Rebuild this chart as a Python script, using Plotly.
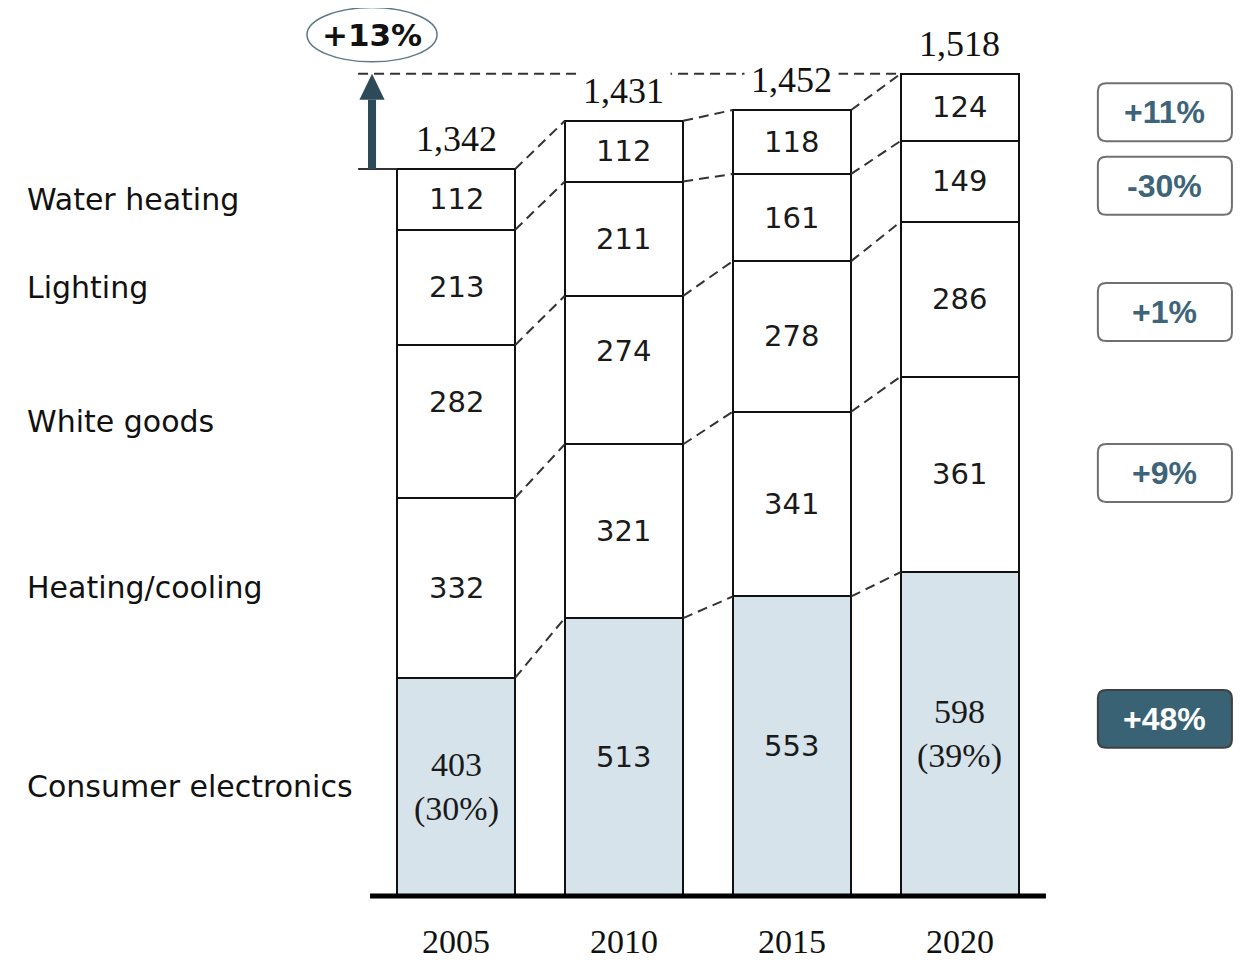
import plotly.graph_objects as go

# ---------------- data ----------------
years = ["2005", "2010", "2015", "2020"]
categories = ["Consumer electronics", "Heating/cooling", "White goods", "Lighting", "Water heating"]
consumer_electronics = [403, 513, 553, 598]
heating_cooling = [332, 321, 341, 361]
white_goods = [282, 274, 278, 286]
lighting = [213, 211, 161, 149]
water_heating = [112, 112, 118, 124]
totals = [1342, 1431, 1452, 1518]
ce_labels = ["403<br>(30%)", "513", "553", "598<br>(39%)"]
change_labels = ["+48%", "+9%", "+1%", "-30%", "+11%"]   # same order as categories
change_box_y = [327, 781, 1078, 1311, 1447]              # label positions (value units)
total_change = "+13%"

# ---------------- layout constants ----------------
# page body has an 8px margin, so the figure is sized to fit the window
W, H = 1234, 954
BW = 0.705
xpos = list(range(len(years)))
YR = [-121.8, 1639.3]
XR = [-2.667, 4.679]
LIGHT = "#D6E3EA"
DARK = "#2C4A58"
TEAL_TXT = "#3D6478"
BOX_FILL = "#3A6275"
SANS = "DejaVu Sans"
SERIF = "Liberation Serif"

series = [consumer_electronics, heating_cooling, white_goods, lighting, water_heating]
fills = [LIGHT, "white", "white", "white", "white"]

fig = go.Figure()

# stacked bars
for name, vals, fill in zip(categories, series, fills):
    fig.add_trace(go.Bar(
        x=xpos, y=vals, width=BW, name=name, showlegend=False, hoverinfo="skip",
        marker=dict(color=fill, line=dict(color="#111111", width=2)),
    ))

# cumulative tops
cum = []
run = [0] * len(years)
for vals in series:
    run = [a + b for a, b in zip(run, vals)]
    cum.append(run[:])

DASH = dict(color="#333333", width=2, dash="10px,6px")

# dashed connectors between bars
for j in range(len(series)):
    for i in range(len(years) - 1):
        fig.add_trace(go.Scatter(
            x=[xpos[i] + BW / 2, xpos[i + 1] - BW / 2], y=[cum[j][i], cum[j][i + 1]],
            mode="lines", line=DASH, showlegend=False, hoverinfo="skip",
        ))

arrow_x = -0.5
# horizontal dashed line at final total
fig.add_trace(go.Scatter(
    x=[arrow_x - 0.083, xpos[-1] - BW / 2], y=[totals[-1], totals[-1]],
    mode="lines", line=DASH, showlegend=False, hoverinfo="skip",
))
# short solid line at first total
fig.add_trace(go.Scatter(
    x=[arrow_x - 0.083, xpos[0] - BW / 2], y=[totals[0], totals[0]],
    mode="lines", line=dict(color="#333333", width=2),
    showlegend=False, hoverinfo="skip",
))

shapes = []
annotations = []

# baseline
shapes.append(dict(type="line", xref="x", yref="y", x0=-0.512, x1=3.512, y0=0, y1=0,
                   line=dict(color="#000000", width=5)))

# arrow (shaft + head)
head_base = totals[-1] - 48
shapes.append(dict(type="rect", xref="x", yref="y", x0=arrow_x - 0.024, x1=arrow_x + 0.024,
                   y0=totals[0], y1=head_base, fillcolor=DARK, line=dict(width=0)))
shapes.append(dict(type="path", xref="x", yref="y",
                   path=f"M{arrow_x - 0.075},{head_base} L{arrow_x},{totals[-1]} L{arrow_x + 0.075},{head_base} Z",
                   fillcolor=DARK, line=dict(width=0)))

# ellipse with +13%
shapes.append(dict(type="circle", xref="x", yref="y", x0=-0.887, x1=-0.113, y0=1540, y1=1640,
                   fillcolor="white", line=dict(color="#5E7886", width=1.5)))
annotations.append(dict(x=arrow_x, y=1590, xref="x", yref="y", text=f"<b>{total_change}</b>",
                        showarrow=False, font=dict(family=SANS, size=31, color="#111111")))

# left category labels at 2005 segment centres
prev = [0] * len(years)
for j, (name, vals) in enumerate(zip(categories, series)):
    centre = prev[0] + vals[0] / 2
    annotations.append(dict(x=-2.565, y=centre, xref="x", yref="y", text=name, xanchor="left",
                            showarrow=False, font=dict(family=SANS, size=30, color="#111111")))
    prev = cum[j]

# inner segment labels
label_shift = {(2, 0): 19, (2, 1): 19}
prev = [0] * len(years)
for j, vals in enumerate(series):
    for i in range(len(years)):
        centre = prev[i] + vals[i] / 2
        if j == 0:
            txt = ce_labels[i]
            fam = SERIF if "<br>" in txt else SANS
            size = 34 if "<br>" in txt else 29
        else:
            txt = str(vals[i])
            fam, size = SANS, 29
        annotations.append(dict(x=xpos[i], y=centre, xref="x", yref="y", text=txt, showarrow=False,
                                yshift=label_shift.get((j, i), 0),
                                font=dict(family=fam, size=size, color="#1a1a1a")))
    prev = cum[j]

# totals above bars
for i, t in enumerate(totals):
    annotations.append(dict(x=xpos[i], y=cum[-1][i], xref="x", yref="y", text=f"{t:,}",
                            showarrow=False, yanchor="bottom", yshift=3, bgcolor="white",
                            borderpad=6, font=dict(family=SERIF, size=36, color="#111111")))

# year labels
for i, yv in enumerate(years):
    annotations.append(dict(x=xpos[i], y=-84, xref="x", yref="y", text=yv, showarrow=False,
                            borderpad=0, font=dict(family=SERIF, size=34, color="#111111")))


# right-hand change boxes
def rrect(x0, x1, y0, y1, rx, ry):
    return (f"M{x0 + rx},{y0} L{x1 - rx},{y0} Q{x1},{y0} {x1},{y0 + ry} "
            f"L{x1},{y1 - ry} Q{x1},{y1} {x1 - rx},{y1} L{x0 + rx},{y1} "
            f"Q{x0},{y1} {x0},{y1 - ry} L{x0},{y0 + ry} Q{x0},{y0} {x0 + rx},{y0} Z")


bx0, bx1 = 3.821, 4.619
for j, (lab, yc) in enumerate(zip(change_labels, change_box_y)):
    filled = j == 0
    shapes.append(dict(type="path", xref="x", yref="y",
                       path=rrect(bx0, bx1, yc - 53.5, yc + 53.5, 0.05, 15),
                       fillcolor=BOX_FILL if filled else "white",
                       line=dict(color="#404040" if filled else "#707070", width=2)))
    annotations.append(dict(x=(bx0 + bx1) / 2, y=yc, xref="x", yref="y", text=f"<b>{lab}</b>",
                            showarrow=False,
                            font=dict(family="Liberation Sans", size=32,
                                      color="white" if filled else TEAL_TXT)))

fig.update_layout(
    width=W, height=H, margin=dict(l=0, r=0, t=0, b=0),
    paper_bgcolor="white", plot_bgcolor="white",
    barmode="stack", bargap=0,
    xaxis=dict(range=XR, visible=False, fixedrange=True),
    yaxis=dict(range=YR, visible=False, fixedrange=True),
    shapes=shapes, annotations=annotations, showlegend=False,
)

fig.write_html("out.html")
